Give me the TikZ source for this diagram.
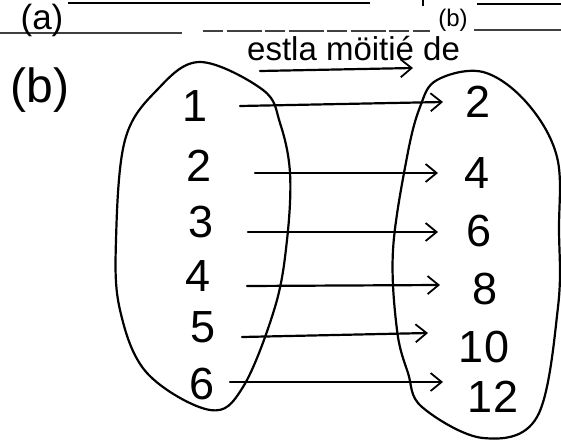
\documentclass[tikz,border=0pt]{standalone}
\usepackage{fontspec}
\setmainfont{Liberation Sans}
\usetikzlibrary{arrows.meta}
\begin{document}
\begin{tikzpicture}[x=1pt,y=-1pt,
  ink/.style={line width=2.2pt,line cap=round,line join=round},
  arr/.style={ink,-{Straight Barb[length=11pt,width=18pt,line width=1.8pt]}},
  num/.style={inner sep=0pt,font=\fontsize{45}{45}\selectfont},
  rule/.style={line width=2.6pt},
  faint/.style={line width=1.2pt,black!75}]
\useasboundingbox (0,0) rectangle (561,441);
% top ruled lines
\draw[rule] (68,3) -- (370,3);
\draw[rule] (423,0) -- (423,6);
\draw[rule] (477,4) -- (561,4);
\draw[faint] (0,33) -- (182,33);
\draw[faint,dash pattern=on 20pt off 4pt on 35pt off 3pt] (203,31) -- (430,31);
\draw[faint] (474,30) -- (561,30);
% labels
\node[inner sep=0pt,font=\fontsize{35}{35}\selectfont] (la) at (42,20) {(a)};
\node[inner sep=0pt,font=\fontsize{24}{24}\selectfont] (lbs) at (453,20) {(b)};
\node[inner sep=0pt,font=\fontsize{48}{48}\selectfont] (lb) at (40,90) {(b)};
\node[inner sep=0pt,font=\fontsize{33}{33}\selectfont,anchor=base west] (title) at (247,61) {estla möitié de};
\coordinate (ts) at (260,71);
\coordinate (te) at (413,68);
\draw[arr] (ts) -- (te);
% blobs
\draw[ink] plot[smooth cycle,tension=0.6] coordinates {
  (200,62) (263,90) (280,123) (290,173) (287,240) (275,307) (243,387) (210,410)
  (147,373) (120,310) (116,240) (125,140) (157,90)};
\draw[ink] plot[smooth cycle,tension=0.6] coordinates {
  (483,72) (527,103) (557,157) (559,230) (558,307) (537,417) (483,438)
  (422,407) (408,373) (397,330) (393,250) (407,157) (420,107) (437,80)};
% left numbers
\node[num] (l1) at (195,106) {1};
\node[num] (l2) at (199,166) {2};
\node[num] (l3) at (201,222) {3};
\node[num] (l4) at (198,276) {4};
\node[num] (l5) at (203,327) {5};
\node[num] (l6) at (202,384) {6};
% right numbers
\node[num] (r1) at (478,102) {2};
\node[num] (r2) at (477,173) {4};
\node[num] (r3) at (479,231) {6};
\node[num] (r4) at (485,289) {8};
\node[num] (r5) at (484,347) {10};
\node[num] (r6) at (493,397) {12};
% arrow ends
\coordinate (s1) at (240,106); \coordinate (e1) at (443,102);
\coordinate (s2) at (255,173); \coordinate (e2) at (438,173);
\coordinate (s3) at (248,232); \coordinate (e3) at (438,232);
\coordinate (s4) at (247,286); \coordinate (e4) at (440,285);
\coordinate (s5) at (242,337); \coordinate (e5) at (428,333);
\coordinate (s6) at (230,382); \coordinate (e6) at (443,382);
\foreach \i in {1,...,6} \draw[arr] (s\i) -- (e\i);
\end{tikzpicture}
\end{document}
